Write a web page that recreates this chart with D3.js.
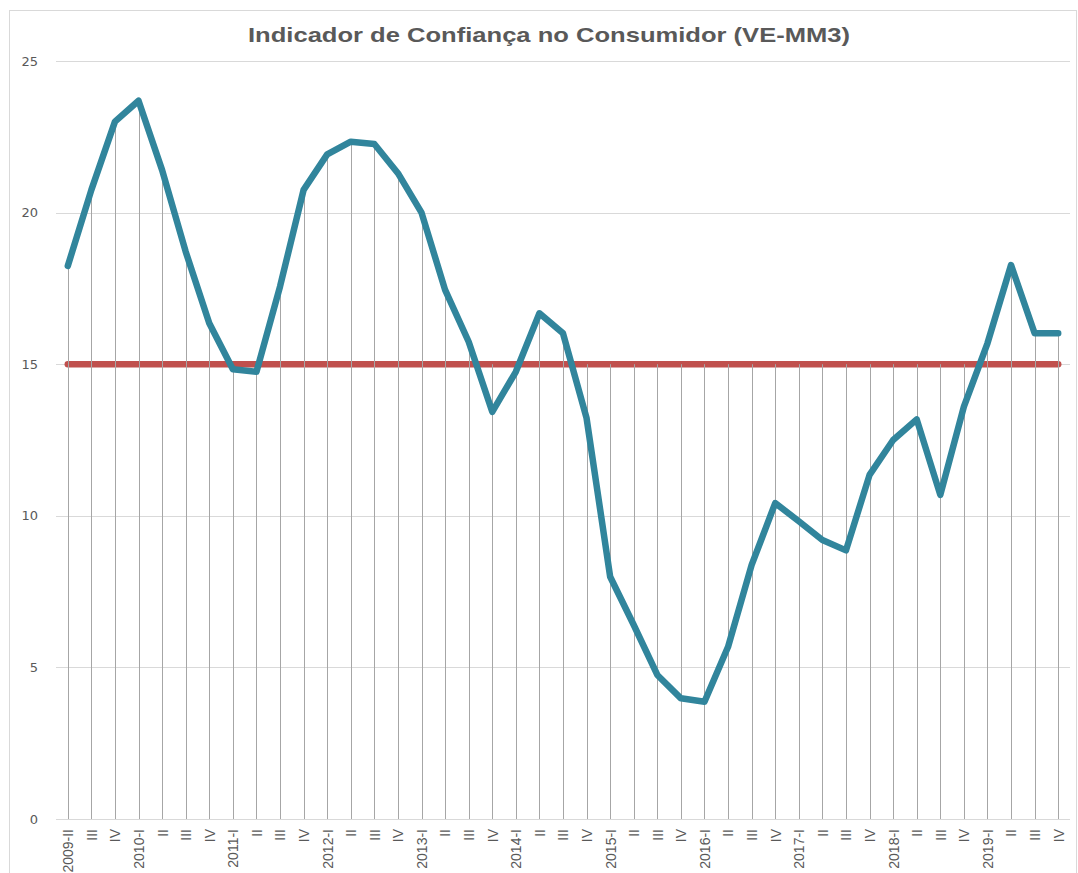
<!DOCTYPE html>
<html>
<head>
<meta charset="utf-8">
<script src="https://cdn.jsdelivr.net/npm/d3@7"></script>
<style>
  html, body { margin: 0; padding: 0; background: #fff; }
  svg { display: block; }
  text { font-family: "Liberation Sans", Arial, sans-serif; }
</style>
</head>
<body>
<script>
// ---- Data ----
const chartTitle = "Indicador de Confiança no Consumidor (VE-MM3)";
const categories = [
  "2009-II","III","IV",
  "2010-I","II","III","IV",
  "2011-I","II","III","IV",
  "2012-I","II","III","IV",
  "2013-I","II","III","IV",
  "2014-I","II","III","IV",
  "2015-I","II","III","IV",
  "2016-I","II","III","IV",
  "2017-I","II","III","IV",
  "2018-I","II","III","IV",
  "2019-I","II","III","IV"
];
const indicatorValues = [
  18.24, 20.75, 23.0,
  23.69, 21.4, 18.71, 16.35,
  14.83, 14.75, 17.56, 20.75,
  21.92, 22.34, 22.26, 21.3,
  20.0, 17.45, 15.74, 13.43,
  14.75, 16.68, 16.02, 13.22,
  7.99, 6.4, 4.75, 3.98,
  3.87, 5.68, 8.38, 10.42,
  9.82, 9.2, 8.86, 11.35,
  12.5, 13.18, 10.69, 13.6,
  15.69, 18.27, 16.02, 16.02
];
const referenceValues = categories.map(() => 15);
const yTicks = [0, 5, 10, 15, 20, 25];

// ---- Layout ----
const W = 1078, H = 873;
const plot = { left: 56, right: 1070, top: 61, bottom: 819 };

const svg = d3.select("body").append("svg")
  .attr("width", W).attr("height", H);

svg.append("rect").attr("width", W).attr("height", H).attr("fill", "#fff");

// outer chart border
svg.append("rect")
  .attr("x", 9.5).attr("y", 10.5)
  .attr("width", 1067).attr("height", 900)
  .attr("fill", "none").attr("stroke", "#d9d9d9").attr("stroke-width", 1);

const idx = categories.map((d, i) => i);
const x = d3.scalePoint().domain(idx).range([plot.left, plot.right]).padding(0.5);
const y = d3.scaleLinear().domain([0, 25]).range([plot.bottom, plot.top]);

// gridlines
svg.append("g")
  .selectAll("line").data(yTicks.filter(t => t > 0)).join("line")
  .attr("x1", plot.left).attr("x2", plot.right)
  .attr("y1", d => Math.round(y(d)) + 0.5).attr("y2", d => Math.round(y(d)) + 0.5)
  .attr("stroke", "#d9d9d9").attr("stroke-width", 1);

// y axis labels
const yAxis = d3.axisLeft(y).tickValues(yTicks).tickSize(0).tickPadding(0);
const gy = svg.append("g").attr("transform", `translate(38,0)`).call(yAxis);
gy.select(".domain").remove();
gy.selectAll("text")
  .attr("fill", "#595959").style("font-size", "13px")
  .style("font-family", "'DejaVu Sans', sans-serif");

// x axis line
svg.append("line")
  .attr("x1", plot.left).attr("x2", plot.right)
  .attr("y1", plot.bottom + 0.5).attr("y2", plot.bottom + 0.5)
  .attr("stroke", "#d9d9d9").attr("stroke-width", 1);

// x axis labels
const xAxis = d3.axisBottom(x).tickSize(0).tickPadding(0).tickFormat(i => categories[i]);
const gx = svg.append("g").attr("transform", `translate(0,${plot.bottom})`).call(xAxis);
gx.select(".domain").remove();
gx.selectAll("text")
  .attr("fill", "#595959").style("font-size", "14px")
  .attr("transform", "rotate(-90)")
  .attr("text-anchor", "end")
  .attr("x", -10).attr("y", 0).attr("dy", "0.35em");

// reference line (15)
const line = (vals) => d3.line().x((d, i) => x(i)).y(d => y(d))(vals);
svg.append("path")
  .attr("d", line(referenceValues))
  .attr("fill", "none").attr("stroke", "#C0504D")
  .attr("stroke-width", 6.5).attr("stroke-linecap", "round");

// drop lines
svg.append("g")
  .selectAll("line").data(idx).join("line")
  .attr("x1", i => Math.round(x(i)) + 0.5).attr("x2", i => Math.round(x(i)) + 0.5)
  .attr("y1", i => y(Math.max(indicatorValues[i], referenceValues[i])))
  .attr("y2", y(0))
  .attr("stroke", "#a6a6a6").attr("stroke-width", 1);

// indicator line
svg.append("path")
  .attr("d", line(indicatorValues))
  .attr("fill", "none").attr("stroke", "#31859C")
  .attr("stroke-width", 6.5).attr("stroke-linejoin", "round").attr("stroke-linecap", "round");

// title
svg.append("text")
  .attr("x", 549).attr("y", 42)
  .attr("text-anchor", "middle")
  .attr("fill", "#595959")
  .attr("textLength", 602).attr("lengthAdjust", "spacingAndGlyphs")
  .style("font-size", "21px").style("font-weight", "bold")
  .text(chartTitle);
</script>
</body>
</html>
